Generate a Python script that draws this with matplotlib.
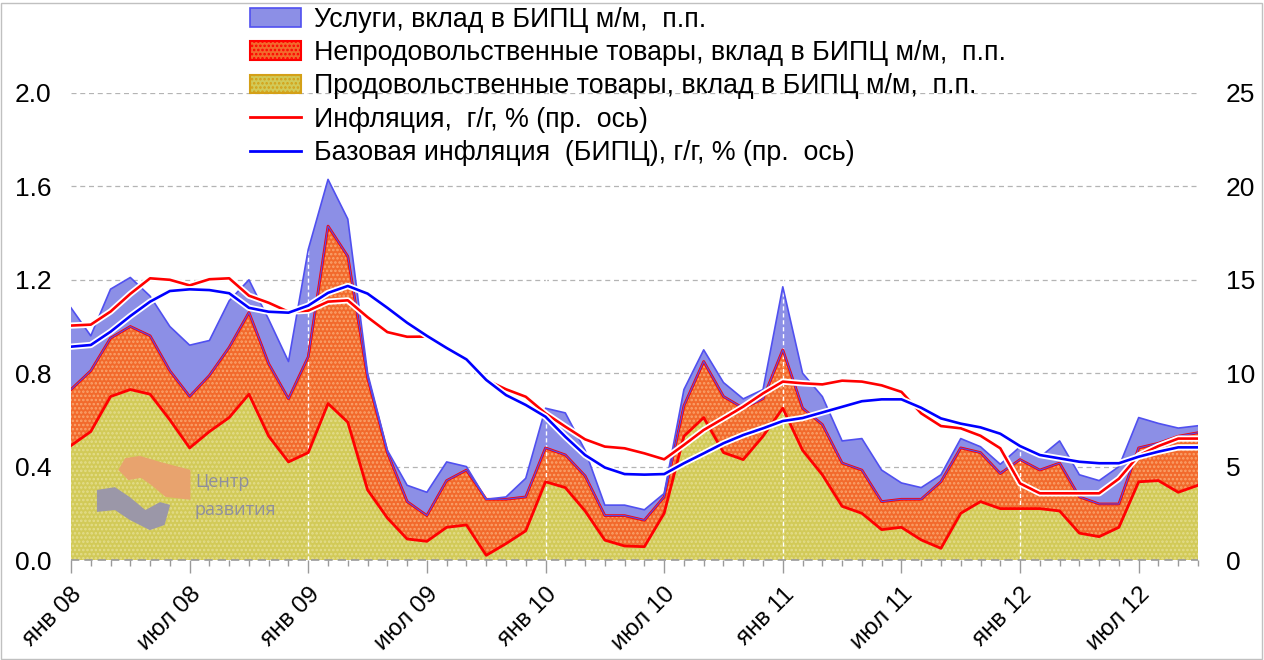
import numpy as np
import matplotlib
matplotlib.use("Agg")
import matplotlib.pyplot as plt
import matplotlib.patheffects as pe
from matplotlib.patches import Patch, Polygon, Rectangle
from matplotlib.lines import Line2D

# Данные: янв 08 ... окт 12, помесячно
months = np.arange(58)
tick_pos = np.arange(0, 58, 6)
tick_labels = ["янв 08", "июл 08", "янв 09", "июл 09", "янв 10",
               "июл 10", "янв 11", "июл 11", "янв 12", "июл 12"]

# вклад в БИПЦ м/м, п.п. (левая ось)
food = [0.49, 0.55, 0.70, 0.73, 0.71, 0.60, 0.48, 0.55, 0.61, 0.71,
        0.53, 0.42, 0.46, 0.67, 0.59, 0.30, 0.18, 0.09, 0.08, 0.14,
        0.15, 0.02, 0.07, 0.125, 0.335, 0.31, 0.21, 0.085, 0.06, 0.057,
        0.20, 0.53, 0.61, 0.46, 0.43, 0.53, 0.65, 0.47, 0.365, 0.23,
        0.20, 0.13, 0.14, 0.086, 0.05, 0.20, 0.25, 0.22, 0.22, 0.22,
        0.21, 0.115, 0.10, 0.14, 0.335, 0.34, 0.29, 0.32]
nonfood = [0.24, 0.26, 0.25, 0.27, 0.25, 0.21, 0.22, 0.24, 0.30, 0.35,
           0.31, 0.27, 0.41, 0.76, 0.71, 0.48, 0.28, 0.16, 0.11, 0.20,
           0.235, 0.24, 0.19, 0.145, 0.145, 0.14, 0.15, 0.105, 0.13, 0.113,
           0.07, 0.13, 0.24, 0.24, 0.22, 0.16, 0.25, 0.18, 0.215, 0.185,
           0.185, 0.12, 0.12, 0.174, 0.285, 0.28, 0.21, 0.15, 0.21, 0.165,
           0.205, 0.155, 0.14, 0.10, 0.145, 0.16, 0.24, 0.225]
services = [0.35, 0.15, 0.21, 0.21, 0.17, 0.19, 0.22, 0.15, 0.20, 0.14,
            0.19, 0.16, 0.46, 0.20, 0.16, 0.02, 0.01, 0.07, 0.10, 0.08,
            0.015, 0.00, 0.01, 0.08, 0.17, 0.18, 0.11, 0.045, 0.045, 0.045,
            0.015, 0.07, 0.05, 0.06, 0.04, 0.04, 0.27, 0.15, 0.12, 0.095,
            0.135, 0.135, 0.07, 0.05, 0.03, 0.04, 0.025, 0.04, 0.055, 0.055,
            0.095, 0.095, 0.10, 0.16, 0.13, 0.085, 0.035, 0.03]

# г/г, % (правая ось)
inflation = [12.55, 12.6, 13.3, 14.25, 15.08, 15.0, 14.7, 15.03, 15.08, 14.15,
             13.77, 13.29, 13.35, 13.83, 13.9, 13.0, 12.2, 11.95, 11.96, 11.35,
             10.74, 9.64, 9.14, 8.74, 7.85, 7.14, 6.46, 6.07, 5.98, 5.71,
             5.39, 6.16, 6.96, 7.58, 8.21, 8.92, 9.55, 9.46, 9.4, 9.6,
             9.55, 9.35, 9.0, 7.85, 7.17, 7.05, 6.65, 5.98, 4.1, 3.57,
             3.57, 3.57, 3.57, 4.35, 5.6, 6.1, 6.5, 6.5]
core = [11.42, 11.51, 12.22, 13.06, 13.83, 14.4, 14.49, 14.45, 14.28, 13.5,
        13.29, 13.24, 13.62, 14.3, 14.67, 14.26, 13.5, 12.7, 12.0, 11.35,
        10.74, 9.64, 8.83, 8.3, 7.67, 6.6, 5.62, 4.95, 4.6, 4.57,
        4.6, 5.18, 5.71, 6.25, 6.69, 7.05, 7.44, 7.6, 7.9, 8.2,
        8.5, 8.6, 8.6, 8.15, 7.58, 7.3, 7.1, 6.76, 6.1, 5.62,
        5.44, 5.26, 5.18, 5.18, 5.53, 5.8, 6.03, 6.03]

labels = ["Услуги, вклад в БИПЦ м/м,  п.п.",
          "Непродовольственные товары, вклад в БИПЦ м/м,  п.п.",
          "Продовольственные товары, вклад в БИПЦ м/м,  п.п.",
          "Инфляция,  г/г, % (пр.  ось)",
          "Базовая инфляция  (БИПЦ), г/г, % (пр.  ось)"]

SERV = "#8c8fe6"
SERV_EDGE = "#5050f0"
NF = "#f26a2c"
NF_DOT = "#f9a46e"
FOOD = "#d2ca58"
FOOD_DOT = "#e3dd8c"
FOOD_EDGE = "#d4a017"

plt.rcParams["font.family"] = ["Liberation Sans", "DejaVu Sans"]
plt.rcParams["hatch.linewidth"] = 1.2

fig = plt.figure(figsize=(12.64, 6.6), dpi=100)
ax = fig.add_axes([71 / 1264, 1 - 560 / 660, 1127 / 1264, 467 / 660])
ax2 = ax.twinx()

f_top = np.array(food)
n_top = f_top + np.array(nonfood)
s_top = n_top + np.array(services)

ax.fill_between(months, 0, f_top, facecolor=FOOD, edgecolor=FOOD_DOT,
                hatch="....", lw=0, zorder=2)
ax.fill_between(months, f_top, n_top, facecolor=NF, edgecolor=NF_DOT,
                hatch="....", lw=0, zorder=2)
ax.fill_between(months, n_top, s_top, facecolor=SERV, lw=0, zorder=2)
ax.plot(months, f_top, color="#ff0000", lw=2, zorder=3)
ax.plot(months, n_top, color="#ff0000", lw=2, zorder=3)
ax.plot(months, n_top, color=SERV_EDGE, lw=0.8, zorder=3)
ax.plot(months, s_top, color=SERV_EDGE, lw=1.2, zorder=3)

# белые вертикальные линии по январям
for m in tick_pos[2::2]:
    ax.axvline(m, color="white", lw=1, ls=(0, (3, 2)), zorder=2.5)

# логотип
ax.add_patch(Polygon([(0.042, 0.193), (0.048, 0.218), (0.061, 0.223), (0.079, 0.21),
                      (0.106, 0.193), (0.106, 0.129), (0.084, 0.135), (0.071, 0.161),
                      (0.062, 0.176), (0.051, 0.171)],
                     closed=True, transform=ax.transAxes, facecolor="#e8a36e",
                     edgecolor="none", zorder=2.6))
ax.add_patch(Polygon([(0.023, 0.150), (0.039, 0.156), (0.052, 0.135), (0.066, 0.107),
                      (0.079, 0.124), (0.088, 0.118), (0.083, 0.075), (0.070, 0.064),
                      (0.052, 0.086), (0.039, 0.107), (0.023, 0.103)],
                     closed=True, transform=ax.transAxes, facecolor="#9b97a8",
                     edgecolor="none", zorder=2.6))
ax.text(0.110, 0.167, "Центр", transform=ax.transAxes, fontsize=13,
        color="#8e8e9e", va="center", ha="left", family=["Open Sans", "DejaVu Sans"],
        zorder=2.6)
ax.text(0.110, 0.107, "развития", transform=ax.transAxes, fontsize=13,
        color="#8e8e9e", va="center", ha="left", family=["Open Sans", "DejaVu Sans"],
        zorder=2.6)

outline = [pe.Stroke(linewidth=4.5, foreground="white"), pe.Normal()]
ax2.plot(months, inflation, color="#ff0000", lw=1.9, path_effects=outline, zorder=3)
ax2.plot(months, core, color="#0000ff", lw=1.9, path_effects=outline, zorder=4)

ax.set_xlim(0, 57)
ax.set_ylim(0, 2.0)
ax2.set_ylim(0, 25)
ax.set_yticks(np.arange(0, 2.01, 0.4))
ax.set_yticklabels([f"{v:.1f}" for v in np.arange(0, 2.01, 0.4)])
ax2.set_yticks(np.arange(0, 26, 5))
ax.grid(axis="y", color="#b4b4b4", ls=(0, (4, 3)), lw=0.9, zorder=0)
ax.set_axisbelow(True)

ax.set_xticks(tick_pos)
ax.set_xticks(months, minor=True)
ax.set_xticklabels(tick_labels, rotation=45, ha="right", va="top",
                   rotation_mode="anchor", fontsize=17.5)
ax.tick_params(axis="x", which="major", length=9, width=1, color="#9a9a9a", pad=8)
ax.tick_params(axis="x", which="minor", length=4, width=1, color="#9a9a9a")
ax.tick_params(axis="y", length=0, labelsize=19, pad=14)
ax2.tick_params(axis="y", length=0, labelsize=19, pad=20)

for a in (ax, ax2):
    for s in ("top", "left", "right", "bottom"):
        a.spines[s].set_visible(False)
ax.axhline(0, color="#9a9a9a", lw=1.2, ls=(0, (5, 3)), zorder=5, clip_on=False)

handles = [
    Patch(facecolor=SERV, edgecolor=SERV_EDGE, lw=1.2),
    Patch(facecolor=NF, edgecolor="#ff0000", hatch="....", lw=1.5),
    Patch(facecolor=FOOD, edgecolor=FOOD_EDGE, hatch="....", lw=1.5),
    Line2D([], [], color="#ff0000", lw=2),
    Line2D([], [], color="#0000ff", lw=2),
]
fig.legend(handles, labels, loc="upper left", bbox_to_anchor=(250 / 1264, 1 - 7 / 660),
           frameon=False, fontsize=19.3, handlelength=1.9, handleheight=0.7,
           handletextpad=0.5, labelspacing=0.27, borderpad=0, borderaxespad=0)

fig.add_artist(Rectangle((0.0008, 0.002), 0.998, 0.993, transform=fig.transFigure,
                         fill=False, edgecolor="#c0c0c0", lw=1))

fig.savefig("out.png", dpi=100)
